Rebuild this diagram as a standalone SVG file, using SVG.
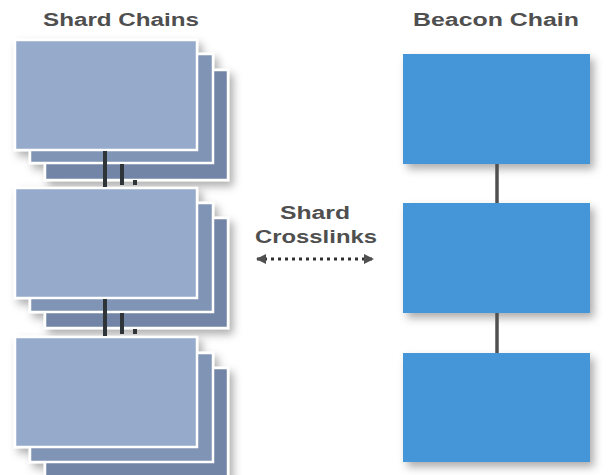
<svg xmlns="http://www.w3.org/2000/svg" width="616" height="475" viewBox="0 0 616 475">
<defs>
<filter id="sh" x="-10%" y="-10%" width="130%" height="140%">
<feDropShadow dx="4" dy="5" stdDeviation="4" flood-color="#000" flood-opacity="0.32"/>
</filter>
<marker id="ah" viewBox="0 0 10 10" refX="9" refY="5" markerWidth="12" markerHeight="10" markerUnits="userSpaceOnUse" orient="auto-start-reverse">
<path d="M0,0 L10,5 L0,10 Z" fill="#505050"/>
</marker>
<style>
.title{font-family:"Liberation Sans",Arial,sans-serif;font-weight:bold;font-size:18px;fill:#4f4f4f;}
.f{fill:#96aacb;stroke:#fff;stroke-width:2.5;}
.l2{fill:#8094b5;stroke:#fff;stroke-width:2.5;}
.l3{fill:#7285a6;stroke:#fff;stroke-width:2.5;}
.b{fill:#4596d8;}
.sc{stroke:#2f3438;stroke-width:4;fill:none;}
.bc{stroke:#505050;stroke-width:3.5;fill:none;}
</style>
</defs>
<rect width="616" height="475" fill="#fff"/>
<text class="title" x="121" y="26" text-anchor="middle" textLength="156" lengthAdjust="spacingAndGlyphs">Shard Chains</text>
<text class="title" x="496" y="26" text-anchor="middle" textLength="166" lengthAdjust="spacingAndGlyphs">Beacon Chain</text>
<text class="title" x="315" y="219" text-anchor="middle" textLength="70" lengthAdjust="spacingAndGlyphs">Shard</text>
<text class="title" x="316" y="243" text-anchor="middle" textLength="122" lengthAdjust="spacingAndGlyphs">Crosslinks</text>
<g id="shard1" filter="url(#sh)">
<rect class="l3" x="45" y="70" width="183" height="110"/>
<rect class="l2" x="30" y="54" width="183" height="109"/>
<rect class="f" x="15" y="40" width="182" height="110"/>
</g>
<g id="shard2" filter="url(#sh)">
<rect class="l3" x="45" y="218" width="183" height="110"/>
<rect class="l2" x="30" y="203" width="183" height="109"/>
<rect class="f" x="15" y="188" width="182" height="110"/>
</g>
<g id="shard3" filter="url(#sh)">
<rect class="l3" x="45" y="368" width="183" height="110"/>
<rect class="l2" x="30" y="353" width="183" height="109"/>
<rect class="f" x="15" y="337" width="182" height="110"/>
</g>
<g id="beacon1" filter="url(#sh)"><rect class="b" x="403" y="54" width="187" height="110"/></g>
<g id="beacon2" filter="url(#sh)"><rect class="b" x="403" y="203" width="187" height="110"/></g>
<g id="beacon3" filter="url(#sh)"><rect class="b" x="403" y="353" width="187" height="109"/></g>
<g id="connectors">
<line class="sc" x1="105" y1="151" x2="105" y2="187"/>
<line class="sc" x1="122" y1="164" x2="122" y2="185"/>
<line class="sc" x1="135" y1="180" x2="135" y2="185"/>
<line class="sc" x1="105" y1="299" x2="105" y2="336"/>
<line class="sc" x1="122" y1="313" x2="122" y2="334"/>
<line class="sc" x1="135" y1="329" x2="135" y2="334"/>
<line class="bc" x1="497" y1="164" x2="497" y2="203"/>
<line class="bc" x1="497" y1="313" x2="497" y2="353"/>
<line x1="257" y1="259" x2="373" y2="259" stroke="#303030" stroke-width="3" stroke-dasharray="3 4" marker-start="url(#ah)" marker-end="url(#ah)"/>
</g>
</svg>
